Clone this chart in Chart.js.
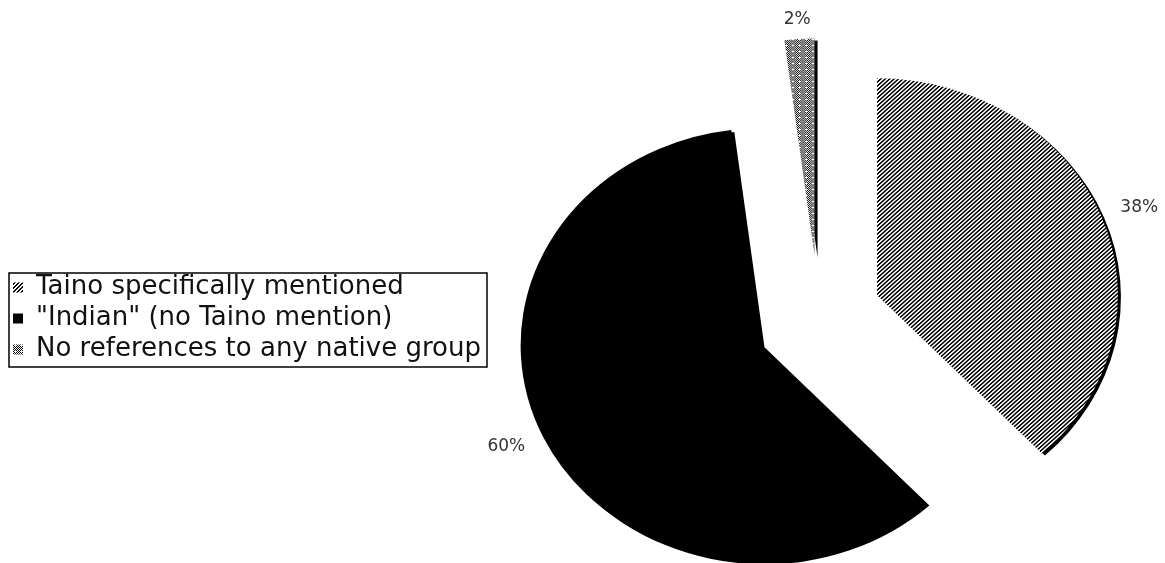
<!DOCTYPE html>
<html>
<head>
<title>Taino mentions</title>
<script src="https://cdn.jsdelivr.net/npm/chart.js@4.4.0/dist/chart.umd.min.js"></script>
<style>
body { margin: 0; background: #fff; }
</style>
</head>
<body>
<canvas id="pie1" width="1165" height="563"></canvas>

<script>
var labels = ['Taino specifically mentioned', '"Indian" (no Taino mention)', 'No references to any native group'];
var values = [38, 60, 2];

var EXPLODE = 63;    // how far each slice is pulled out (screen px)
var STRETCH = 1.11;  // the pie is wider than tall
var RADIUS = 217;

// diagonal black/white lines
function hatchPattern() {
	var c = document.createElement('canvas');
	c.width = 4; c.height = 4;
	var g = c.getContext('2d');
	g.fillStyle = '#fff';
	g.fillRect(0, 0, 4, 4);
	g.fillStyle = '#000';
	for (var y = 0; y < 4; y++)
		for (var x = 0; x < 4; x++)
			if ((x + y) % 4 < 2) g.fillRect(x, y, 1, 1);
	return g.createPattern(c, 'repeat');
}

// dark stipple with small white dots
function dotPattern() {
	var c = document.createElement('canvas');
	c.width = 6; c.height = 6;
	var g = c.getContext('2d');
	g.fillStyle = '#fff';
	g.fillRect(0, 0, 6, 6);
	g.fillStyle = '#000';
	for (var y = 0; y < 6; y++)
		for (var x = 0; x < 6; x++)
			if ((x + y) % 2 == 0) g.fillRect(x, y, 1, 1);
	g.fillStyle = '#fff';
	g.fillRect(3, 3, 1, 1);
	g.fillRect(2, 3, 1, 1);
	return g.createPattern(c, 'repeat');
}

var pieStyle = {
	id: 'pieStyle',
	afterDatasetsUpdate: function(chart) {
		// explode every slice along its middle angle
		// (x is divided because the drawing gets stretched later)
		chart.getDatasetMeta(0).data.forEach(function(arc) {
			var mid = (arc.startAngle + arc.endAngle) / 2;
			arc.x += Math.cos(mid) * EXPLODE / STRETCH;
			arc.y += Math.sin(mid) * EXPLODE;
		});
	},
	beforeDatasetsDraw: function(chart) {
		var ctx = chart.ctx, a = chart.chartArea;
		var cx = (a.left + a.right) / 2;
		ctx.save();
		ctx.translate(cx, 0);
		ctx.scale(STRETCH, 1);
		ctx.translate(-cx, 0);
		ctx.shadowColor = '#000';
		ctx.shadowOffsetX = 3;
		ctx.shadowOffsetY = 2;
		ctx.shadowBlur = 0;
	},
	afterDatasetsDraw: function(chart) {
		var ctx = chart.ctx, a = chart.chartArea;
		ctx.restore();
		var cx = (a.left + a.right) / 2;
		var total = values.reduce(function(s, v) { return s + v; }, 0);
		ctx.save();
		ctx.font = '17px "DejaVu Sans"';
		ctx.fillStyle = '#333';
		ctx.textAlign = 'center';
		ctx.textBaseline = 'middle';
		chart.getDatasetMeta(0).data.forEach(function(arc, i) {
			var mid = (arc.startAngle + arc.endAngle) / 2;
			var dx = Math.cos(mid), dy = Math.sin(mid);
			var txt = Math.round(values[i] / total * 100) + '%';
			var w = ctx.measureText(txt).width;
			var d = arc.outerRadius + 20;
			var px = cx + (arc.x + dx * d - cx) * STRETCH + dx * w / 2;
			var py = arc.y + dy * d;
			ctx.fillText(txt, px, py);
		});
		ctx.restore();
	},
	afterDraw: function(chart) {
		// frame round the legend
		var hb = chart.legend.legendHitBoxes;
		if (!hb || !hb.length) return;
		var l = hb[0].left, t = hb[0].top, r = 0, b = 0;
		hb.forEach(function(h) {
			l = Math.min(l, h.left);
			t = Math.min(t, h.top);
			r = Math.max(r, h.left + h.width);
			b = Math.max(b, h.top + h.height);
		});
		var ctx = chart.ctx;
		ctx.save();
		ctx.strokeStyle = '#000';
		ctx.lineWidth = 1.5;
		ctx.strokeRect(l - 4, t - 1.5, r - l + 10, b - t + 6);
		ctx.restore();
	}
};

var ctx = document.getElementById('pie1').getContext('2d');
var chart = new Chart(ctx, {
	type: 'pie',
	data: {
		labels: labels,
		datasets: [{
			data: values,
			backgroundColor: [hatchPattern(), '#000', dotPattern()],
			borderWidth: 0,
			radius: RADIUS,
			clip: false
		}]
	},
	options: {
		responsive: false,
		animation: false,
		events: [],
		layout: { padding: { left: 8, top: 74, right: 19, bottom: 0 } },
		plugins: {
			tooltip: { enabled: false },
			legend: {
				position: 'left',
				labels: {
					boxWidth: 10,
					boxHeight: 10,
					padding: 5,
					color: '#111',
					font: { family: 'DejaVu Sans', size: 26 }
				}
			}
		}
	},
	plugins: [pieStyle]
});
</script>
</body>
</html>
